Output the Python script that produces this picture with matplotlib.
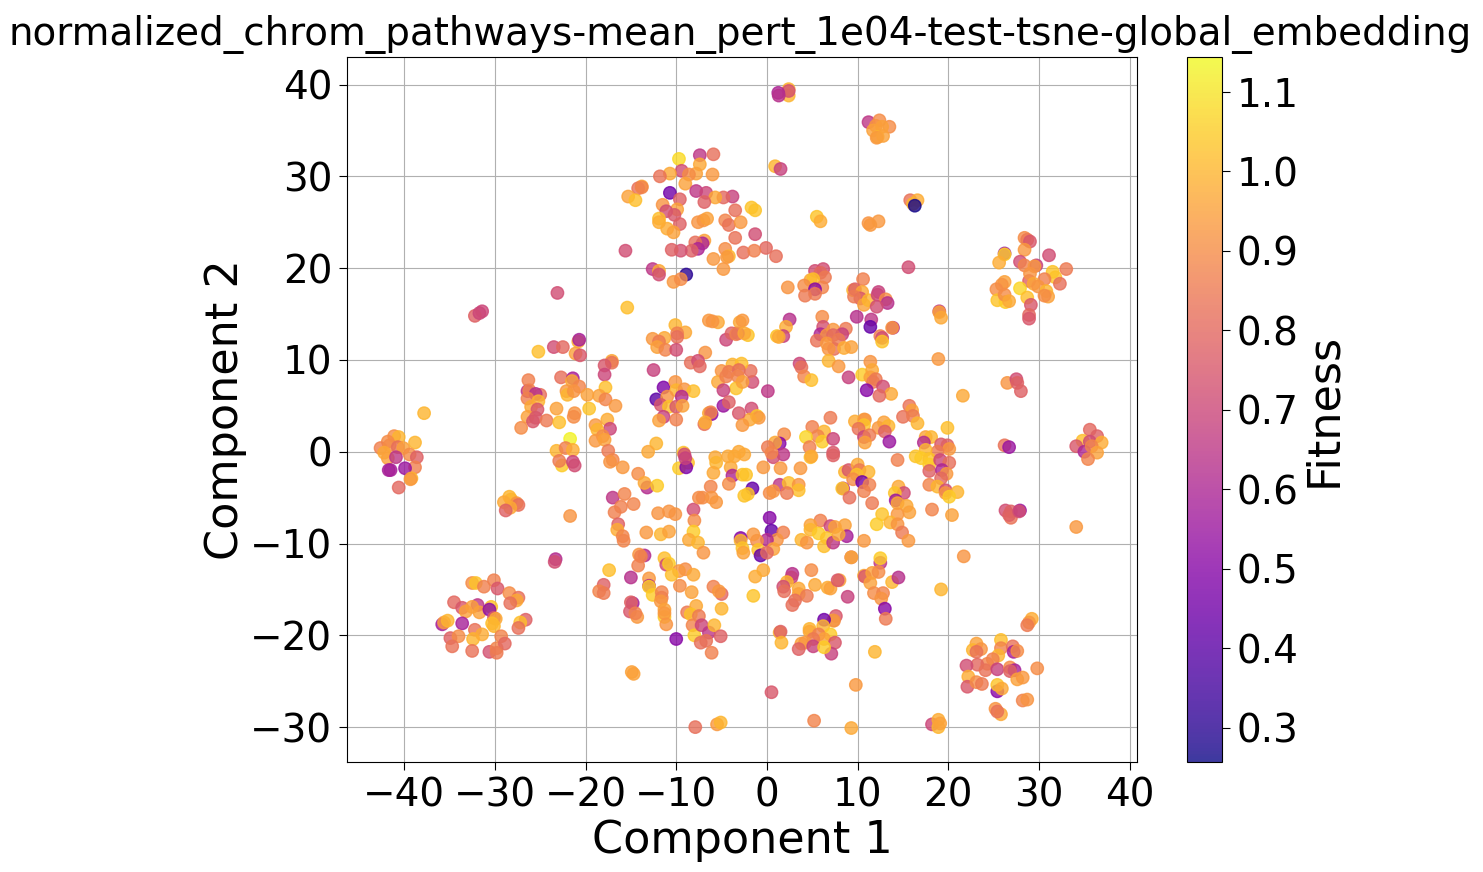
import numpy as np
import matplotlib
matplotlib.use('Agg')
import matplotlib.pyplot as plt

upper_left = [
    (-9.7,31.9,1.08),(-7.4,32.3,.65),(-5.9,32.4,.82),(-7.4,31.3,.97),(-9.4,30.6,.72),(-7.8,30.3,.95),(-8.6,30.2,.9),
    (-6.0,30.2,.93),(-10.7,30.3,.97),(-11.8,30.0,.83),(-9.0,29.2,.95),(-13.8,28.9,.97),(-14.2,28.7,.83),(-13.8,28.8,.88),
    (-15.3,27.8,.95),(-14.5,27.4,1.02),(-10.7,28.2,.45),(-7.8,28.4,.65),(-6.7,28.2,.7),(-3.8,27.8,.68),(-4.8,27.7,.8),
    (-5.7,27.7,.97),(-6.9,27.2,.78),(-9.6,27.5,.78),(-11.5,26.9,.92),(-9.9,26.4,.95),(-11.1,26.2,.72),(-10.2,25.8,.75),
    (-11.9,25.4,1.02),(-11.9,25.0,.98),(-9.6,24.8,.78),(-7.6,25,.92),(-7,25.2,.92),(-6.6,25.4,.95),(-4.6,25.2,.88),
    (-4.2,24.7,.83),(-2.9,25.0,.93),(-3.5,26.3,.82),(-11,24.3,.98),(-10.3,23.9,.95),(-3.5,23.3,.83),(-6.9,23,.95),
    (-7.1,22.7,.6),(-7.9,22.8,.82),(-7.6,22.1,.6),(-8.3,21.9,.78),(-9.5,21.9,.73),(-10.5,22,.78),(-15.6,21.9,.72),
    (-4.6,22.1,.9),(-4.2,21.3,1.0),(-4.4,21.2,.93),(-5.9,21,.93),(-2.6,21.7,.82),(-4.8,19.9,.93),(-12.6,19.9,.65),
    (-11.9,19.7,.97),(-11.9,19.3,.72),(-8.9,19.3,.3),(-10.3,18.5,.93),(-9.5,18.8,.9),(-23.1,17.3,.72),
    (-1.7,26.6,1.03),(-1.3,26.3,1.03),(-1.3,23.7,.72),(-0.1,22.2,.8),(-1.4,21.9,.87),(1,21.3,.82),
]
upper_right = [
    (2.4,39.5,1.0),(2.4,38.8,1.0),(2.4,39.3,.73),(1.25,39.1,.6),(1.3,38.8,.63),(11.2,35.9,.65),(12.4,36.1,.9),(13.5,35.4,.9),
    (12,35.5,.92),(12.7,35.4,.95),(11.7,35,.95),(12.2,34.3,1.0),(12.1,34.2,.93),(12.8,34.4,.95),(0.9,31.1,1.0),(1.5,30.8,.68),
    (5.5,25.6,1.03),(5.9,25.1,.98),(11.2,24.9,.92),(11.4,24.7,.93),(12.3,25.1,.93),(15.8,27.4,.83),(16.6,27.4,.98),
    (16.1,27,1.0),(16.3,26.8,.27),(15.6,20.1,.72),(28.4,23.3,.9),(28.7,23.1,.85),(29,22.9,.75),(28.4,22,.93),(26.2,21.6,.55),
    (26.2,21.5,1.05),(25.6,20.6,.98),(27.9,20.7,.72),(31.1,21.4,.72),(28.4,20.3,.88),(29.7,20.3,.68),(29.5,20.2,.93),
    (31.5,19.6,1.03),(33,19.9,.85),(31.8,19,1.03),(28.9,18.6,.78),(29,19.4,.92),(30.6,18.8,.87),(26.2,18.5,.95),(25.9,18.2,.92),
    (27.9,17.8,1.07),(25.3,17.7,.9),(29.4,18.3,.97),(29.9,18,.92),(32.3,18.3,.82),(30.8,17.5,1.0),(25.4,16.5,1.03),
    (26.3,16.3,1.05),(26.2,17.1,.9),(26.7,16.4,.97),(28.7,16.8,1.02),(29.1,16,.75),(31.0,16.9,.95),(30.6,17,.9),(28.9,14.9,.8),
    (28.9,14.5,.75),(5.3,19.7,.72),(6.2,19.9,.72),(5.9,19.5,.8),(6.4,19,.85),(4.8,18.7,.97),(5.1,18.8,1.02),(4.1,18.1,.9),
    (2.3,17.9,.92),(6.1,17.9,.88),(5.3,17.7,.5),(10.6,18.8,.87),(9.5,17.6,1.0),(9.7,17.7,.78),(10.5,17.4,.97),(12.3,17.4,.68),
]
middle_right = [
    (4.2,17,.85),(5.3,17.2,.85),(10.3,16.7,.75),(9.6,16.9,.85),(10.7,16,.95),(11.2,16.5,1.0),(12.2,17.1,.7),(13.1,16.6,.9),
    (13.3,16.2,.63),(12.1,15.8,.72),(19,15.3,.65),(19,15.2,.95),(19.2,14.6,.97),(2.5,14.4,.63),(2.1,13.6,.98),(1.8,12.6,.68),
    (1.1,12.6,1.03),(1.3,12.5,.97),(6.1,14.7,.9),(9.9,14.7,.63),(11.5,14.4,.65),(11.4,13.6,.42),(13.9,13.5,.63),(13.8,13.5,.92),
    (6.2,13.6,.73),(7.3,13.3,.93),(8.7,13.4,.85),(8.3,12.8,.68),(5.9,12.8,.6),(6.6,12.7,.92),(7.3,12.7,.8),(5.5,12.1,.83),
    (6.6,11.8,.93),(7.9,12.2,.85),(7.4,11.2,.83),(6.8,11.2,.92),(8.5,11.3,.98),(9.3,11.4,.95),(12.5,12.6,.87),(12.7,12.4,.72),
    (12.7,12,1.03),(18.9,10.1,.93),(6.8,9.9,1.0),(7.9,9.3,.93),(3.6,9.6,.7),(3.8,9.2,.82),(4.1,8.2,.88),(4.9,7.8,1.02),
    (-1.6,7.6,.72),(-1.8,8.8,.82),(9,8.1,.68),(11.4,9.8,.92),(10.5,8.4,1.05),(11.6,8.9,.97),(11.4,8.1,.95),(12,7.9,.85),
    (11.7,7.6,.85),(12.8,7.1,.72),(11,6.7,.5),(13.7,6.3,.97),(12.4,6.1,.8),(0.1,6.6,.65),(21.6,6.1,.97),(26.5,7.5,.92),
    (27.5,7.9,.72),(27.6,7.5,.78),(28,6.6,.78),(15.7,5,.83),(16,4.5,.95),(15,3.8,.83),(16.1,3.9,.85),(16.6,3.1,1.0),
    (-1.7,4.7,.72),(-1.1,3.9,1.03),(-0.9,3.7,.93),(-1.9,3.5,.97),(7,3.7,.85),(9.7,3.3,.98),(10.7,3.5,.97),(10.8,3.5,.92),
    (10.7,2.9,1.03),(10.1,2.5,.83),(12.3,2.6,.93),(12.9,3.2,.95),(13.4,2.8,1.0),(13,2.2,.78),(19.9,2.6,1.02),(5,2.7,.87),
    (6.3,2.2,1.0),(5.6,1.7,.88),(4.3,1.6,1.07),(6.1,1.1,1.05),(7.3,1.4,.7),(1.9,1.9,.9),(10.7,1.6,.7),(11.3,1.8,.85),
    (10.8,1,.95),(13.5,1.1,.55),(17.5,1.6,.95),(18.1,1.6,1.0),(17.3,1,.62),(1.4,.9,.5),(.9,1,.97),(.1,.5,.85),(4.7,.5,.87),
    (19.2,.8,.75),(19.9,.7,.78),(20.1,.3,.93),(18.8,0,.85),(17.5,.2,1.0),(26.2,.7,.83),(26.7,.5,.55),(35.6,2.4,.8),
    (36.4,1.7,.78),(34.8,1.2,1.02),(35.6,1.1,.72),(36.9,1,.98),(34.1,.6,.75),(35,0,.6),(35.8,.6,.88),(36.4,-.1,.95),
    (35.4,-.8,.88),(7.3,-.1,.75),(7.3,-.4,.78),(4.8,-.6,1.02),(4.9,-.5,.97),(1.8,-.3,.65),(.7,-.6,.72),(.5,-.1,.88),
    (14.4,-.9,.87),(16.4,-.5,1.03),(17,-.7,1.05),(17.9,-.8,1.03),(17.9,-1.4,1.05),(19.1,-.9,.7),(20.1,-1.2,.82),(-.4,-1.7,.93),
    (1.5,-1.8,.93),(3.7,-1.8,.93),(-2.3,-2.5,1.03),(8.6,-2.2,1.0),(9,-2,.75),(10,-1.4,.97),(10.2,-2,.85),(11.2,-2.2,1.0),
    (9.9,-2.5,1.03),(9.5,-3,.9),(10.5,-3.3,.45),(11.3,-3.6,.87),(17.9,-2.1,.78),(19.3,-2,.6),(19.8,-2.4,.93),(19.2,-2.9,.8),
    (17.9,-3.6,.88),(18.8,-3.8,1.0),(19.7,-4.2,.72),(19.7,-4.5,.92),(21,-4.4,1.0),(20.1,-4.9,1.05),(-1.6,-4,.42),(-2.1,-4.6,1.03),
    (1.4,-3.6,.65),(2.4,-3.4,1.02),(3.5,-3.6,.92),(3.5,-4.2,1.02),(2.2,-4.5,.85),(.3,-4.5,.9),(.7,-4.3,.92),(8.4,-4,.63),
    (8.3,-4,1.03),(10.7,-4.3,.87),(9.1,-5,.82),(14.5,-3.8,.97),(15.1,-4.5,.72),(14.1,-4.5,1.03),(14.2,-5.3,.55),(14.4,-5.6,.97),
    (15.4,-5.9,.97),(11.6,-5.6,.85),(18.2,-6.3,.88),(12.7,-6.8,1.03),(15.7,-6.6,.95),(14.4,-6.8,.93),(20.4,-6.9,.95),(.3,-7.2,.5),
    (26.3,-6.4,.72),(26.9,-6.5,.78),(26.9,-7.2,.83),(26.7,-6.9,.78),(27.9,-6.4,.55),(27.8,-6.5,.72),(34.1,-8.2,.93),(5.9,-7.5,.87),
    (4.8,-8,.95),(7,-8.1,.7),(7.5,-8.2,.95),(8.6,-8,.95),(12.1,-7.9,1.05),(13.6,-7.7,1.0),(14.4,-7.9,.92),(-2.1,12.7,1.03),
]
lower_right = [
    (.5,-8.6,.42),(1.8,-8.8,.87),(1.1,-9.6,.92),(0,-9.6,.62),(-1.1,-9.7,.9),(-1.5,-9,.93),(.7,-10.6,.95),(-.96,-10.7,1.03),
    (-.7,-11.3,.42),(0,-11,.8),(3.8,-9.6,1.0),(4.4,-9.9,.92),(4.8,-8.5,1.0),(5.7,-8.9,1.05),(6.6,-9.4,1.03),(6.3,-10.3,1.02),
    (7.3,-9.9,.65),(8.8,-9.2,.58),(7.9,-9,.97),(10.7,-9.7,.93),(9.3,-11.5,.75),(9.3,-11.5,.97),(12.5,-12.1,.65),(12.5,-11.6,1.05),
    (14.9,-8.8,.85),(15.6,-9.7,.93),(21.7,-11.4,.92),(-.4,-12.9,.97),(-1.3,-13.6,.98),(4.9,-12.9,.9),(2.8,-13.3,.63),(2.7,-13.7,.68),
    (2.2,-14.2,1.0),(1.8,-14.7,.72),(1.9,-15.2,.82),(3.5,-14.9,.97),(3.5,-15.5,.95),(4.4,-15.7,.85),(3.1,-16.2,.82),(2.8,-16.7,.82),
    (5.3,-14.5,.97),(6.7,-14.8,.98),(7,-14.9,.95),(8,-14,.95),(7.8,-14,.75),(8.9,-15.8,.68),(10.7,-13.5,.98),(10.8,-13.6,.75),
    (11.6,-13.2,.95),(12.3,-13.1,.9),(11.4,-14.3,.95),(13.8,-14.2,1.0),(14.5,-13.7,.63),(11.8,-15.4,.9),(12.8,-15.4,.88),
    (12.6,-16,.92),(13,-17.1,.5),(13.1,-18.2,.85),(-1.5,-15.7,1.03),(19.2,-15,1.0),(7.6,-17.9,.75),(7.3,-18.4,1.05),(7.4,-18.4,.9),
    (6.3,-18.3,.45),(1.4,-19.7,1.0),(1.5,-19.6,.78),(1.6,-20.8,1.0),(4.7,-19.3,1.0),(4.7,-19.6,.97),(6.2,-19,1.0),(7,-19.9,1.05),
    (5.7,-19.9,.87),(6.3,-20.4,.95),(5.1,-20.4,.85),(7.5,-20.8,.75),(3.8,-20.9,.95),(4.2,-20.8,.93),(3.5,-21.5,.78),(5.1,-21.2,.68),
    (7.1,-22,.68),(6.3,-21.3,1.05),(11.9,-21.8,1.0),(25.8,-20.5,1.02),(23.1,-20.9,.95),(22.7,-21.6,1.0),(23.6,-21.5,.92),
    (23.1,-21.8,.83),(25.8,-21.4,.88),(27.1,-21.2,.83),(27.2,-21.8,.58),(27.6,-21.7,.9),(25.5,-22.2,1.0),(24.9,-22.6,.87),
    (24.3,-23.1,.88),(23.2,-23.2,.8),(22,-23.3,.72),(24.1,-23.8,.83),(25.4,-23.7,.68),(26.8,-23.5,.9),(27.3,-23.8,.58),
    (26.8,-23.9,.78),(29.8,-23.6,.9),(22.2,-24.5,.98),(27.6,-24.8,.95),(28.2,-24.6,.93),(22.1,-25.6,.75),(23.1,-25.1,.9),
    (23.7,-25.3,.85),(25.4,-26.1,.5),(25.4,-25.4,1.03),(25.9,-25.8,.97),(28.2,-27.1,.88),(28.7,-27,.92),(29.2,-18.2,.98),
    (28.9,-18.6,.93),(28.7,-18.9,.85),(25.2,-28,.92),(25.8,-28.6,.97),(25.4,-28.3,.83),(.5,-26.2,.75),(9.8,-25.4,.93),
    (5.2,-29.3,.88),(9.3,-30.1,.97),(18.2,-29.7,.7),(18.9,-30,1.0),(18.9,-29.2,.98),(19.1,-29.6,.95),
]
middle_left = [
    (-15.4,15.7,1.02),(-31.4,15.3,.7),(-32.2,14.8,.78),(-31.7,15.1,.7),(-10.1,13.8,1.0),(-9,13,.97),(-9.9,12.9,.87),(-9.9,12.5,.82),
    (-6.4,14.3,.93),(-5.4,14.1,.97),(-6,14.2,.92),(-12.6,12.3,.93),(-11.3,12.4,.97),(-11.9,12,.85),(-12.1,11.4,.95),(-11.2,11.1,.88),
    (-10,11.1,.72),(-4.5,12.2,.7),(-3.9,12.9,.78),(-3.2,12.9,.7),(-3,14.1,.97),(-2.7,14.3,.93),(-3.4,12.8,.87),(-2.5,12.9,.97),
    (-25.2,10.9,1.02),(-23.5,11.4,.72),(-22.5,11.4,.8),(-20.8,12,1.0),(-20.7,12.2,.58),(-21.1,10.7,.95),(-20.6,10.5,.75),
    (-17.1,9.9,.97),(-17.1,9.7,.83),(-17.9,9.4,.75),(-17.9,8.4,.7),(-6.8,10.8,.92),(-8.4,9.7,.82),(-7.6,9.9,.72),(-7.4,9.3,.8),
    (-12.5,8.9,.68),(-26.3,7.8,.87),(-22.7,8.1,.82),(-21.4,8,.58),(-21.5,7.7,.97),(-20.7,7.1,.88),(-5,8.8,.92),(-5.4,7.6,.97),
    (-3.8,9.5,1.0),(-2.8,9.6,1.02),(-4.2,8.7,.85),(-3.1,8.9,.82),(-4.5,8.2,.87),(-3.2,8.2,.88),(-3.4,6.9,1.03),(-4.8,6.7,.68),
    (-2.7,7.6,.95),(-17.8,7,1.02),(-19.8,6.2,.95),(-18.5,6.1,.95),(-17.8,5.7,.88),(-16.7,5,.93),(-26.4,6.6,.65),(-26.2,6.7,.88),
    (-25,6.2,.82),(-25.5,6.3,.63),(-26.4,5.8,.87),(-25.2,5.5,1.0),(-22.1,6.6,.93),(-22,6.2,1.0),(-21.3,6.6,.92),(-11.4,7,.48),
    (-12.2,5.7,.4),(-10.1,7.6,.92),(-10,6.7,1.0),(-9.1,6.8,.92),(-8.1,6.6,1.02),(-11,6,.92),(-9.4,6,.62),(-11.7,5.1,.75),
    (-10.8,4.9,1.03),(-10,4.9,.75),(-9.3,5,.95),(-4.8,5,.55),(-4.2,5.4,.78),(-23.2,4.7,.95),(-26,4.9,.97),(-25.3,4.6,.75),
    (-19.6,4.7,1.03),(-3.1,4.2,.75),(-6.4,4.2,.97),(-6.1,4.1,.53),(-6.2,4.3,.88),(-26.4,3.8,.95),(-25.8,3.3,.75),(-25.5,3.7,.75),
    (-24.3,3.4,.85),(-22.9,3.2,1.02),(-21.2,4.2,.92),(-21.3,3.8,.9),(-17.6,3.5,.98),(-18.9,2.9,.93),(-17.3,2.5,.7),(-18.7,2.4,1.0),
    (-18.1,1.7,.9),(-18.9,1.2,.93),(-17.9,1.3,.95),(-27.1,2.6,.9),(-11.4,3.8,.68),(-11.9,3.4,.95),(-10,3.5,.87),(-6.9,3,.83),
    (-6.8,3.2,.98),(-2.7,2.9,.93),(-37.8,4.2,1.0),(-21.7,1.4,1.13),(-12.2,.9,1.0),(-13.1,0,.97),(-41.1,1.7,.9),(-40.6,1.6,1.0),
    (-41.8,1.1,.9),(-38.8,1,1.0),(-42.6,.4,.87),(-41.6,.7,.9),(-40.7,.5,.82),(-40.1,.4,.95),(-42.2,-.1,.97),(-41.8,-.7,.95),
    (-39.4,-.3,.9),(-38.6,-.6,.78),(-40.9,-.6,.65),(-38.8,-1.7,.87),(-39.9,-1.8,.55),(-41.5,-2,.58),(-41.7,-2,.58),(-39.2,-2.9,1.0),
    (-39.3,-3,.93),(-40.6,-3.9,.8),(-23.2,.1,1.0),(-22.2,.4,.87),(-21.4,.2,.98),(-22.6,-1.5,1.05),(-22.9,-1,.85),(-21.4,-1.1,.7),
    (-21.2,-1.5,.72),(-17.5,.1,.85),(-17,-.9,.88),(-17.3,-1.1,.92),(-15.9,-1.7,.93),(-14.2,-2.4,.9),(-13.2,-3.9,.62),(-13.5,-3.4,.97),
    (-12.1,-3.7,1.05),(-9.2,-.1,1.03),(-9.7,-1.8,1.05),(-8.7,-1.2,1.02),(-8.9,-1.7,.48),(-9.1,-.3,.72),(-9,-.7,.68),(-5.7,-.6,.97),
    (-5.6,-1.2,1.0),(-5.9,-2.3,.97),(-4.3,-.5,.97),(-3.6,-.5,.97),(-3.1,0,.97),(-2.5,-.3,.97),(-4,-1.7,.97),(-3.8,-2.6,.6),
    (-4.2,-3.5,.9),(-2.7,-2.5,1.03),(-6.2,-3.8,.88),(-2.5,-4.8,1.03),(-17,-5,.65),(-15.7,-4.6,.88),(-14.7,-5.7,.88),(-16.1,-6,.87),
    (-16.8,-6.6,.87),(-16.4,-7.9,.78),(-12,-6.7,.92),(-10.8,-6.5,.92),(-10.1,-6.8,.92),(-8.1,-6.3,.72),(-8,-7.5,.9),(-7.5,-5,.9),
    (-7.1,-5,.9),(-6.1,-5,.92),(-5.6,-5.5,.93),(-28.4,-4.9,1.0),(-28.2,-5.2,1.0),(-27.6,-5.6,.92),(-27.4,-5.8,.82),(-29,-5.5,.97),
    (-28.3,-6.1,.97),(-28.8,-6.4,.78),(-21.7,-7,.92),
]
lower_left = [
    (-23.3,-11.7,.62),(-23.4,-12,.72),(-16.5,-8.5,.98),(-15.9,-9.2,.88),(-15.8,-9.7,.88),(-13.3,-8.8,.93),(-11.7,-9,1.0),
    (-10.8,-8.7,.95),(-8.1,-8.7,1.05),(-8.6,-9.6,.97),(-7.6,-9.9,1.0),(-7,-11,.92),(-2.9,-9.4,.5),(-2.9,-9.7,1.0),(-2.7,-10.5,1.03),
    (-2.6,-11,.95),(-13.5,-11.3,.62),(-14.1,-11.2,.92),(-13.9,-11.4,.87),(-14.2,-12.4,.87),(-11.3,-11.6,1.02),(-11.1,-12.3,.72),
    (-10.8,-12.2,1.05),(-9,-12.8,.9),(-9.7,-13,.93),(-8.1,-13.4,.97),(-10.5,-13.4,1.02),(-17.4,-12.9,1.02),(-15,-13.7,.63),
    (-13,-13.8,.93),(-9.6,-14.6,.9),(-13,-14.6,.6),(-13,-14.7,1.05),(-12.6,-15.6,1.05),(-11.6,-15.3,.88),(-11.6,-15.9,.87),
    (-11.7,-16.3,.93),(-11.3,-18,1.05),(-11.3,-17.2,.95),(-11.3,-17.6,.93),(-11.1,-18.8,.92),(-18,-14.5,.78),(-18.5,-15.2,.88),
    (-18,-15.4,.85),(-8.3,-15.3,.95),(-5.9,-14.7,.87),(-5,-15.5,.8),(-5.3,-15.2,.93),(-5,-17.1,1.0),(-14.8,-16.5,.58),(-15,-16.4,.78),
    (-15.1,-17.4,.75),(-14.3,-18,.93),(-14.5,-17.6,.87),(-8.8,-17.5,.85),(-7.8,-16.8,.97),(-8.4,-17.7,1.03),(-7.5,-17.9,.85),
    (-8.2,-18.9,.88),(-8,-20,1.05),(-7.2,-18.9,.7),(-6.4,-19.7,.65),(-5.8,-18.9,1.0),(-5.1,-20.1,.78),(-6.7,-20.6,.83),(-7.3,-20.8,.82),
    (-6.1,-21.9,.87),(-10,-20.4,.5),(-14.9,-24,.95),(-14.7,-24.2,.95),(-7.9,-30,.82),(-5.5,-29.7,.93),(-5.1,-29.5,1.0),
    (-32.5,-14.3,.9),(-32.1,-14.3,1.03),(-30.1,-14,.87),(-31.2,-14.7,.87),(-29.7,-14.9,.75),(-28.4,-15.4,.9),(-27.4,-15.9,.82),
    (-27.6,-16.2,.97),(-28.3,-16.5,.82),(-34.5,-16.4,.8),(-33.6,-17,.75),(-31.9,-16.7,.65),(-32.5,-16.9,.95),(-33.2,-17.4,.95),
    (-31.7,-17.5,.95),(-30.4,-16.9,1.03),(-30.6,-17.2,.52),(-30.1,-18.1,.75),(-29.9,-18.2,.97),(-26.6,-18.3,.78),(-27.2,-18.6,1.02),
    (-27.4,-19.2,.82),(-35.8,-18.8,.58),(-35.6,-18.6,.93),(-35.2,-18.4,1.0),(-33.6,-18.7,.58),(-30.3,-18.7,1.02),(-30.1,-19,1.0),
    (-32.2,-19.4,.83),(-34.9,-20.3,.78),(-34,-20.1,.9),(-32.4,-20.4,1.0),(-31.4,-19.9,.98),(-29.3,-20.1,.88),(-34.7,-21.2,.83),
    (-32.5,-21.7,.83),(-30.6,-21.8,.73),(-29.8,-21.4,.88),(-28.9,-20.9,.8),(-29.8,-21.9,.85),
]

x_ticks = [-40, -30, -20, -10, 0, 10, 20, 30, 40]
y_ticks = [-30, -20, -10, 0, 10, 20, 30, 40]
fitness_ticks = [0.3, 0.4, 0.5, 0.6, 0.7, 0.8, 0.9, 1.0, 1.1]

points = np.array(upper_left + upper_right + middle_right + lower_right + middle_left + lower_left)

fig = plt.figure(figsize=(14.83, 8.72), dpi=100)
ax = fig.add_axes([347 / 1483, 1 - 762 / 872, 790 / 1483, 705 / 872])
cax = fig.add_axes([1187 / 1483, 1 - 762 / 872, 35 / 1483, 705 / 872])

sc = ax.scatter(points[:, 0], points[:, 1], c=points[:, 2], cmap='plasma', s=80, alpha=0.8,
                vmin=0.257, vmax=1.144)
ax.grid(True)
ax.set_axisbelow(True)
ax.set_xlim(-46.3, 40.8)
ax.set_ylim(-33.8, 43.0)
ax.set_xticks(x_ticks)
ax.set_yticks(y_ticks)
ax.tick_params(labelsize=28, length=6, pad=4.5)
ax.set_xlabel('Component 1', fontsize=32, labelpad=3.5)
ax.set_ylabel('Component 2', fontsize=32, labelpad=2.5)
ax.set_title('normalized_chrom_pathways-mean_pert_1e04-test-tsne-global_embedding', fontsize=28, x=0.497, pad=9)

cbar = fig.colorbar(sc, cax=cax)
cbar.set_ticks(fitness_ticks)
cbar.ax.tick_params(labelsize=28, length=6, pad=4.5)
cbar.set_label('Fitness', fontsize=32, labelpad=2.5)

fig.savefig('out.png', dpi=100)
